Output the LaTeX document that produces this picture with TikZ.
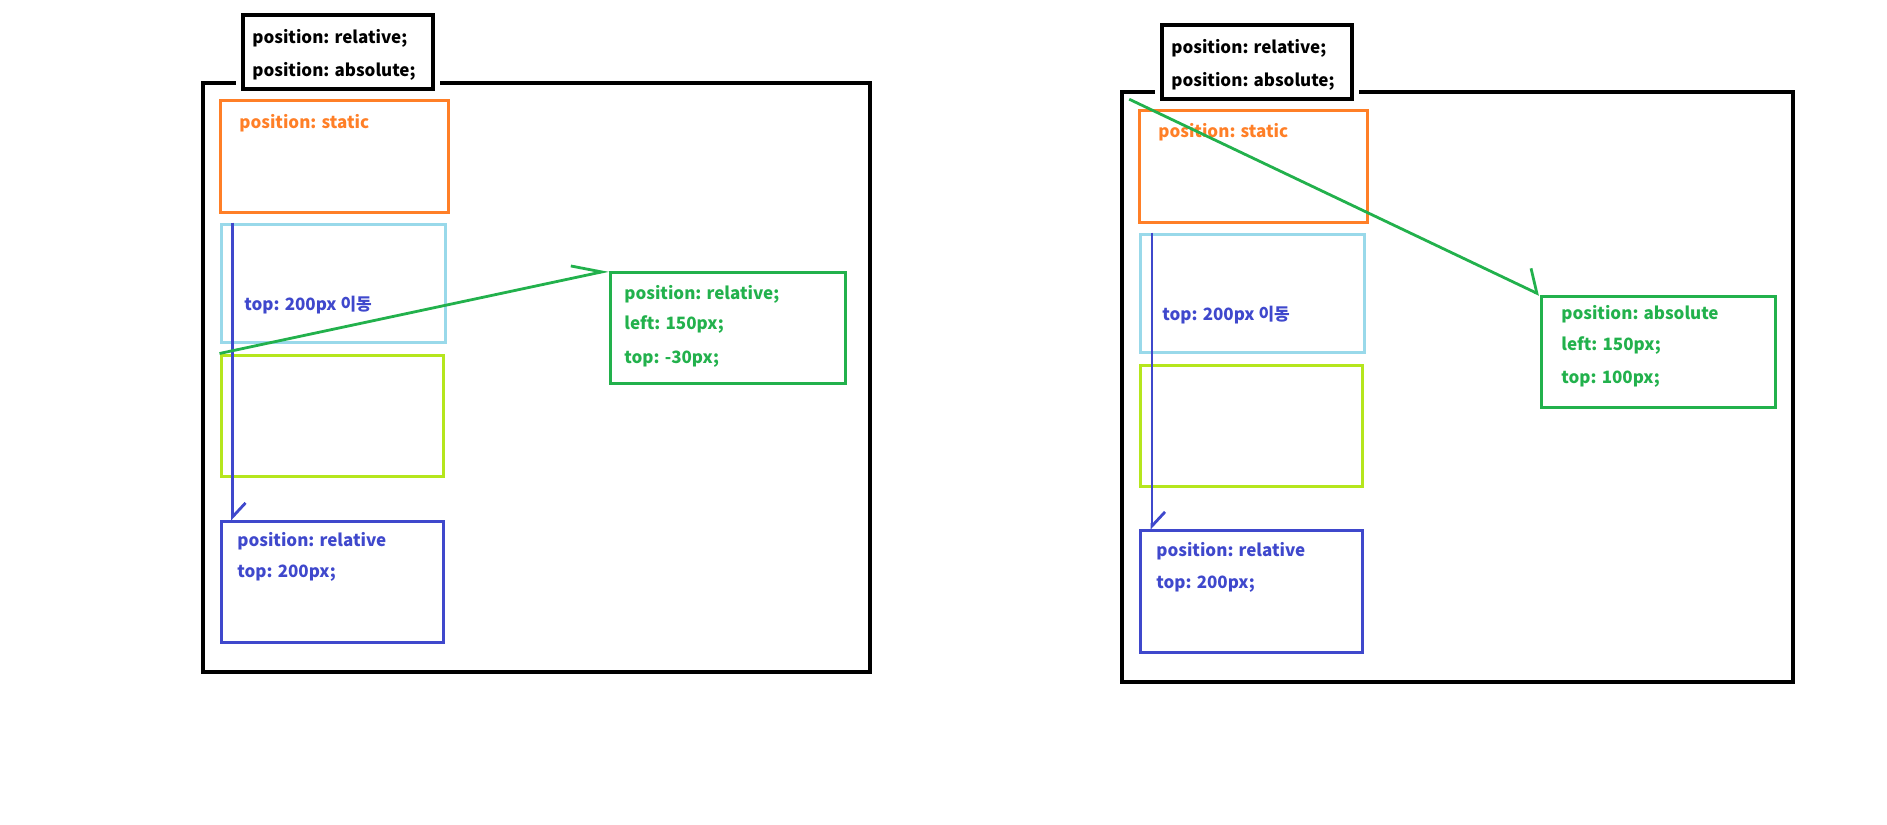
\documentclass[tikz,border=0pt]{standalone}
\usepackage{fontspec}
\newfontfamily\kr{Noto Sans CJK KR}
\usetikzlibrary{arrows.meta, fit, calc}

\definecolor{paintorange}{RGB}{255,127,39}
\definecolor{paintsky}{RGB}{153,217,234}
\definecolor{paintlime}{RGB}{181,230,29}
\definecolor{paintindigo}{RGB}{63,72,204}
\definecolor{paintgreen}{RGB}{34,177,76}

\tikzset{
  frame/.style={draw=black, line width=1.8pt, inner sep=0pt},
  titlebox/.style={draw=black, line width=1.8pt, fill=white, inner sep=0pt,
    preaction={draw=white, line width=7pt}},
  cssbox/.style={draw=#1, line width=1.5pt, inner sep=0pt},
  css/.style={text=#1, font=\kr\bfseries\fontsize{8.5}{10}\selectfont, anchor=west, inner sep=0pt},
  move/.style={draw=#1, line width=1.4pt},
}

\begin{document}
\begin{tikzpicture}[x=0.5pt, y=-0.5pt]
\useasboundingbox (0,0) rectangle (1887,825);

% position: relative
\node[frame, fit={(203,83) (870,672)}] (outerA) {};
\node[titlebox, fit={(243,15) (433,89)}] (titleA) {};
\node[css=black] (titleAa) at (252,38) {position: relative;};
\node[css=black] (titleAb) at (252,71) {position: absolute;};
\node[cssbox=paintorange, fit={(220,100) (448,212)}] (staticA) {};
\node[css=paintorange] (staticAtxt) at (239,123) {position: static};
\node[cssbox=paintsky, fit={(221,224) (445,342)}] (skyA) {};
\node[css=paintindigo] (skyAtxt) at (244,305) {top: 200px 이동};
\node[cssbox=paintlime, fit={(221,355) (443,476)}] (limeA) {};
\node[cssbox=paintgreen, fit={(610,272) (845,383)}] (relA) {};
\node[css=paintgreen] (relAa) at (624,294) {position: relative;};
\node[css=paintgreen] (relAb) at (624,325) {left: 150px;};
\node[css=paintgreen] (relAc) at (624,359) {top: -30px;};
\node[cssbox=paintindigo, fit={(221,521) (443,642)}] (topA) {};
\node[css=paintindigo] (topAa) at (237,541) {position: relative};
\node[css=paintindigo] (topAb) at (237,573.5) {top: 200px;};
\draw[move=paintindigo, -{Straight Barb[harpoon, length=7pt, width=13pt]}]
  ($(skyA.north west)+(13,0)$) -- ($(topA.north west)+(13,1)$);
\draw[move=paintgreen, -{Straight Barb[harpoon, length=14.5pt, width=12.3pt]}]
  (limeA.north west) -- (relA.north west);

% position: absolute
\node[frame, fit={(1122,92) (1793,682)}] (outerB) {};
\node[titlebox, fit={(1162,25) (1352,99)}] (titleB) {};
\node[css=black] (titleBa) at (1171,48) {position: relative;};
\node[css=black] (titleBb) at (1171,81) {position: absolute;};
\node[cssbox=paintorange, fit={(1139,110) (1367,222)}] (staticB) {};
\node[css=paintorange] (staticBtxt) at (1158,132) {position: static};
\node[cssbox=paintsky, fit={(1140,234) (1364,352)}] (skyB) {};
\node[css=paintindigo] (skyBtxt) at (1162,315) {top: 200px 이동};
\node[cssbox=paintlime, fit={(1140,365) (1362,486)}] (limeB) {};
\node[cssbox=paintgreen, fit={(1541,296) (1775,407)}] (absB) {};
\node[css=paintgreen] (absBa) at (1561,314) {position: absolute};
\node[css=paintgreen] (absBb) at (1561,346) {left: 150px;};
\node[css=paintgreen] (absBc) at (1561,379) {top: 100px;};
\node[cssbox=paintindigo, fit={(1140,530) (1362,652)}] (topB) {};
\node[css=paintindigo] (topBa) at (1156,551) {position: relative};
\node[css=paintindigo] (topBb) at (1156,584) {top: 200px;};
\draw[move=paintindigo, -{Straight Barb[harpoon, length=7pt, width=13pt]}]
  ($(skyB.north west)+(13.5,0)$) -- ($(topB.north west)+(13.5,1)$);
\draw[move=paintgreen, -{Straight Barb[harpoon, length=8pt, width=20pt]}]
  ($(outerB.north west)+(9,9)$) -- (absB.north west);
\end{tikzpicture}
\end{document}
